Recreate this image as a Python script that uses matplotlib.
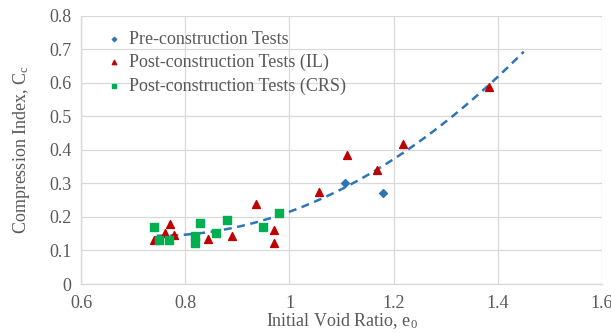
import numpy as np
import matplotlib.pyplot as plt

# Compression index vs initial void ratio
pre_e0 = [1.107, 1.179]
pre_cc = [0.302, 0.272]

il_e0 = [0.740, 0.761, 0.770, 0.778, 0.843, 0.890, 0.935, 0.970, 0.970,
         1.056, 1.110, 1.169, 1.218, 1.383]
il_cc = [0.131, 0.151, 0.179, 0.146, 0.133, 0.144, 0.239, 0.161, 0.121,
         0.273, 0.386, 0.341, 0.418, 0.586]

crs_e0 = [0.739, 0.749, 0.769, 0.818, 0.818, 0.829, 0.858, 0.879, 0.949, 0.980]
crs_cc = [0.171, 0.131, 0.131, 0.143, 0.123, 0.181, 0.152, 0.192, 0.171, 0.212]

x_ticks = [0.6, 0.8, 1.0, 1.2, 1.4, 1.6]
x_tick_labels = ["0.6", "0.8", "1", "1.2", "1.4", "1.6"]
y_ticks = [0, 0.1, 0.2, 0.3, 0.4, 0.5, 0.6, 0.7, 0.8]
y_tick_labels = ["0", "0.1", "0.2", "0.3", "0.4", "0.5", "0.6", "0.7", "0.8"]

# polynomial trend line over all tests
all_e0 = np.array(pre_e0 + il_e0 + crs_e0)
all_cc = np.array(pre_cc + il_cc + crs_cc)
coef = np.polyfit(all_e0, all_cc, 2)
trend_x = np.linspace(0.745, 1.45, 200)
trend_y = np.polyval(coef, trend_x)

plt.rcParams['font.family'] = ['Liberation Serif', 'DejaVu Serif']
txt = '#595959'
grid_c = '#d9d9d9'

fig = plt.figure(figsize=(6.11, 3.33), dpi=100)
ax = fig.add_axes([0.133, 0.147, 0.852, 0.806])

ax.plot(trend_x, trend_y, linestyle=(0, (3.2, 2.2)), color='#2e75b6', linewidth=1.8, zorder=2)
ax.scatter(pre_e0, pre_cc, marker='D', s=16, color='#2e75b6', zorder=3,
           label='Pre-construction Tests')
ax.scatter(il_e0, il_cc, marker='^', s=32, color='#c00000', zorder=3,
           label='Post-construction Tests (IL)')
ax.scatter(crs_e0, crs_cc, marker='s', s=32, color='#00b050', zorder=3,
           label='Post-construction Tests (CRS)')

ax.set_xlim(0.6, 1.6)
ax.set_ylim(0, 0.8)
ax.set_xticks(x_ticks)
ax.set_xticklabels(x_tick_labels)
ax.set_yticks(y_ticks)
ax.set_yticklabels(y_tick_labels)
ax.tick_params(length=0, labelsize=13, colors=txt)
ax.tick_params(axis='x', pad=8)
ax.tick_params(axis='y', pad=7)
ax.grid(True, color=grid_c, linewidth=0.9)
ax.set_axisbelow(True)
for side in ['top', 'right']:
    ax.spines[side].set_visible(False)
for side in ['left', 'bottom']:
    ax.spines[side].set_color(grid_c)
    ax.spines[side].set_linewidth(1.0)

ax.set_xlabel(r'Initial Void Ratio, e$\mathregular{_0}$', fontsize=13, color=txt, labelpad=-1)
ax.set_ylabel(r'Compression Index, C$\mathregular{_c}$', fontsize=13, color=txt, labelpad=12)

leg = ax.legend(loc='upper left', bbox_to_anchor=(0.025, 0.985), frameon=False,
                fontsize=13, handletextpad=0.3, labelspacing=0.35,
                markerscale=0.55, handlelength=1.0, borderaxespad=0.2)
for t in leg.get_texts():
    t.set_color(txt)

fig.savefig('out.png', dpi=100)
